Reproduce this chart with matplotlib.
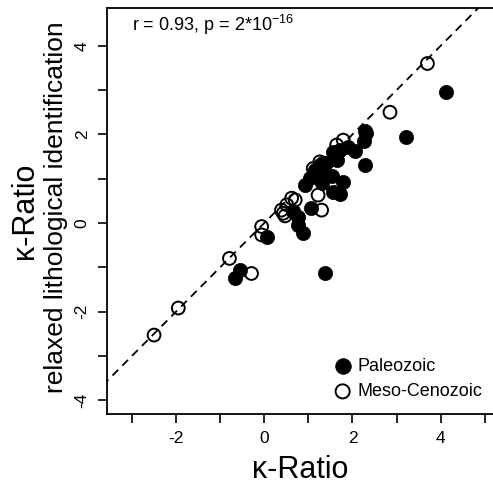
import matplotlib
matplotlib.use('Agg')
import matplotlib.pyplot as plt
import numpy as np

plt.rcParams['font.family'] = ['Liberation Sans', 'DejaVu Sans']

# Paleozoic (filled)
paleo_x = [4.13, 3.21, 2.28, 2.30, 2.27, 2.28, 2.06, 1.90, 1.72, 1.64, 1.56,
           1.79, 1.72, 1.41, 1.26, 1.34, 1.53, 1.15, 1.04, 0.92, 1.30, 1.56,
           1.07, 0.66, 0.76, 0.76, 0.88, 0.05, -0.55, -0.67, 1.38]
paleo_y = [2.96, 1.95, 1.31, 2.02, 1.85, 2.08, 1.62, 1.72, 1.65, 1.42, 1.61,
           0.93, 0.66, 1.35, 1.31, 1.12, 1.05, 1.20, 1.01, 0.86, 0.90, 0.71,
           0.33, 0.26, 0.14, -0.05, -0.22, -0.31, -1.06, -1.24, -1.12]

# Meso-Cenozoic (open)
meso_x = [3.70, 2.85, 1.79, 1.64, 1.34, 1.26, 1.11, 1.22, 1.30, 0.70, 0.62,
          0.51, 0.39, 0.43, 0.47, -0.06, -0.06, -0.79, -0.29, -1.95, -2.50]
meso_y = [3.60, 2.50, 1.87, 1.76, 1.35, 1.38, 1.23, 0.63, 0.29, 0.52, 0.56,
          0.41, 0.29, 0.22, 0.16, -0.08, -0.27, -0.80, -1.14, -1.92, -2.53]

labels = ['Paleozoic', 'Meso-Cenozoic']
stat_text = 'r = 0.93, p = 2*10$^{\\mathregular{\u221216}}$'

W, H = 493, 484
fig = plt.figure(figsize=(W / 100, H / 100), dpi=100)
ax = fig.add_axes([107 / W, 1 - 414 / H, 393 / W, 406 / H])
ax.set_xlim(-3.567, 5.345)
ax.set_ylim(-4.312, 4.853)

line = np.array([-5, 6])
ax.plot(line, line, color='black', lw=1.3, dashes=(4.5, 3.2), zorder=1)

ax.scatter(paleo_x, paleo_y, s=105, color='black', edgecolors='black',
           linewidths=0.5, zorder=2, label=labels[0])
ax.scatter(meso_x, meso_y, s=85, facecolors='none', edgecolors='black',
           linewidths=1.4, zorder=3, label=labels[1])

ax.text(-3.0, 4.47, stat_text, fontsize=13, va='center', ha='left')

ax.set_xticks([-2, 0, 2, 4])
ax.set_xticks([-3, -1, 1, 3, 5], minor=True)
ax.set_yticks([-4, -2, 0, 2, 4])
ax.set_yticks([-3, -1, 1, 3], minor=True)
ax.set_xticklabels(['-2', '0', '2', '4'])
ax.set_yticklabels(['-4', '-2', '0', '2', '4'])
ax.tick_params(which='both', direction='out', length=6.5, width=1.2,
               labelsize=12.5, pad=6)
for lbl in ax.get_yticklabels():
    lbl.set_rotation(90)
    lbl.set_va('center')
for sp in ax.spines.values():
    sp.set_linewidth(1.3)

fig.text(300 / W, 1 - 470 / H, '\u03ba-Ratio', fontsize=22,
         ha='center', va='center')
fig.text(25 / W, 1 - 211 / H, '\u03ba-Ratio', fontsize=22,
         ha='center', va='center', rotation=90)
fig.text(56 / W, 1 - 207 / H, 'relaxed lithological identification',
         fontsize=19, ha='center', va='center', rotation=90)

ax.legend(loc='upper left', bbox_to_anchor=(330 / W, 1 - 358 / H),
          bbox_transform=fig.transFigure, frameon=False, fontsize=13,
          borderpad=0, borderaxespad=0, handletextpad=0.1,
          handlelength=1.4, labelspacing=0.45, markerscale=1.1)

fig.savefig('out.png', dpi=100)
